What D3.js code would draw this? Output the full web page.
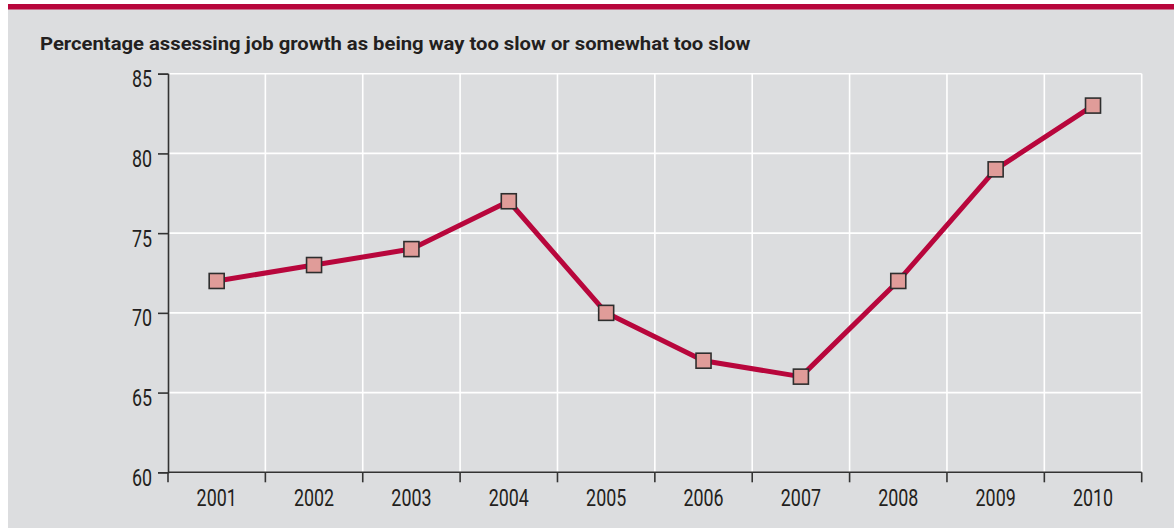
<!DOCTYPE html>
<html>
<head>
<meta charset="utf-8">
<script src="https://cdn.jsdelivr.net/npm/d3@7"></script>
<style>
  html, body { margin: 0; padding: 0; background: #ffffff; }
  svg { display: block; }
</style>
</head>
<body>
<svg id="chart" width="1174" height="528"></svg>
<script>
// Survey results by year
const years = ["2001", "2002", "2003", "2004", "2005", "2006", "2007", "2008", "2009", "2010"];
const tooSlow = [72, 73, 74, 77, 70, 67, 66, 72, 79, 83];
const yTicks = [60, 65, 70, 75, 80, 85];
const title = "Percentage assessing job growth as being way too slow or somewhat too slow";

const svg = d3.select("#chart");
const W = 1174, H = 528;
const margin = { left: 168, right: 32.3, top: 73.7, bottom: 55.7 };
const plotW = W - margin.left - margin.right;
const plotH = H - margin.top - margin.bottom;
const ink = "#231f20";
const axisColor = "#333333";
const labelFont = "Roboto, 'Liberation Sans', sans-serif";
const labelSize = 23.5;
const narrow = 0.76; // horizontal squeeze for the condensed look of the labels

// Panel background and top rule
svg.append("rect").attr("x", 8).attr("y", 9).attr("width", W - 8).attr("height", H - 9).attr("fill", "#dcdddf");
svg.append("rect").attr("x", 8).attr("y", 4).attr("width", W - 8).attr("height", 5.5).attr("fill", "#b8063c");

// Title, squeezed to its set width
const t = svg.append("text")
  .attr("x", 0).attr("y", 0)
  .attr("font-family", "Roboto, 'Liberation Sans', sans-serif")
  .attr("font-weight", "bold")
  .attr("font-size", 18.5)
  .attr("fill", ink)
  .text(title);
const tw = t.node().getComputedTextLength();
t.attr("transform", `translate(40,49.5) scale(${711 / tw},1)`);

const g = svg.append("g").attr("transform", `translate(${margin.left},${margin.top})`);

const x = d3.scaleBand().domain(years).range([0, plotW]).padding(0);
const y = d3.scaleLinear().domain([60, 85]).range([plotH, 0]);

// Grid
g.append("g").selectAll("line").data(yTicks.filter(d => d > 60)).join("line")
  .attr("x1", 0).attr("x2", plotW)
  .attr("y1", d => y(d)).attr("y2", d => y(d))
  .attr("stroke", "#ffffff").attr("stroke-width", 1.6);
const bounds = years.map(d => x(d) + x.bandwidth());
g.append("g").selectAll("line").data(bounds).join("line")
  .attr("x1", d => d).attr("x2", d => d)
  .attr("y1", 0).attr("y2", plotH)
  .attr("stroke", "#ffffff").attr("stroke-width", 1.6);

// Y axis
const yAxis = g.append("g")
  .call(d3.axisLeft(y).tickValues(yTicks).tickSize(10).tickPadding(6).tickFormat(d3.format("d")));
yAxis.select(".domain").attr("stroke", axisColor).attr("stroke-width", 1.6);
yAxis.selectAll(".tick line").attr("stroke", axisColor).attr("stroke-width", 1.6);
yAxis.selectAll(".tick text")
  .attr("font-family", labelFont).attr("font-size", labelSize).attr("fill", ink)
  .attr("x", null).attr("dy", null)
  .attr("transform", `translate(-16,13) scale(${narrow},1)`);

// X axis: ticks at band boundaries, labels centred in bands
const xAxisG = g.append("g").attr("transform", `translate(0,${plotH})`);
xAxisG.append("line").attr("x1", 0).attr("x2", plotW).attr("y1", 0).attr("y2", 0)
  .attr("stroke", axisColor).attr("stroke-width", 1.6);
xAxisG.selectAll("line.tk").data([0].concat(bounds)).join("line")
  .attr("x1", d => d).attr("x2", d => d).attr("y1", 0).attr("y2", 10)
  .attr("stroke", axisColor).attr("stroke-width", 1.6);
xAxisG.selectAll("text").data(years).join("text")
  .attr("transform", d => `translate(${x(d) + x.bandwidth() / 2},34) scale(${narrow},1)`)
  .attr("text-anchor", "middle")
  .attr("font-family", labelFont).attr("font-size", labelSize).attr("fill", ink)
  .text(d => d);

// Line
const line = d3.line()
  .x((d, i) => x(years[i]) + x.bandwidth() / 2)
  .y(d => y(d));
g.append("path").datum(tooSlow)
  .attr("d", line)
  .attr("fill", "none")
  .attr("stroke", "#b8063c")
  .attr("stroke-width", 5)
  .attr("stroke-linejoin", "round");

// Markers
const s = 15;
g.selectAll("rect.pt").data(tooSlow).join("rect")
  .attr("x", (d, i) => x(years[i]) + x.bandwidth() / 2 - s / 2)
  .attr("y", d => y(d) - s / 2)
  .attr("width", s).attr("height", s)
  .attr("fill", "#e09c99")
  .attr("stroke", "#2e2e2e")
  .attr("stroke-width", 1.6);
</script>
</body>
</html>
